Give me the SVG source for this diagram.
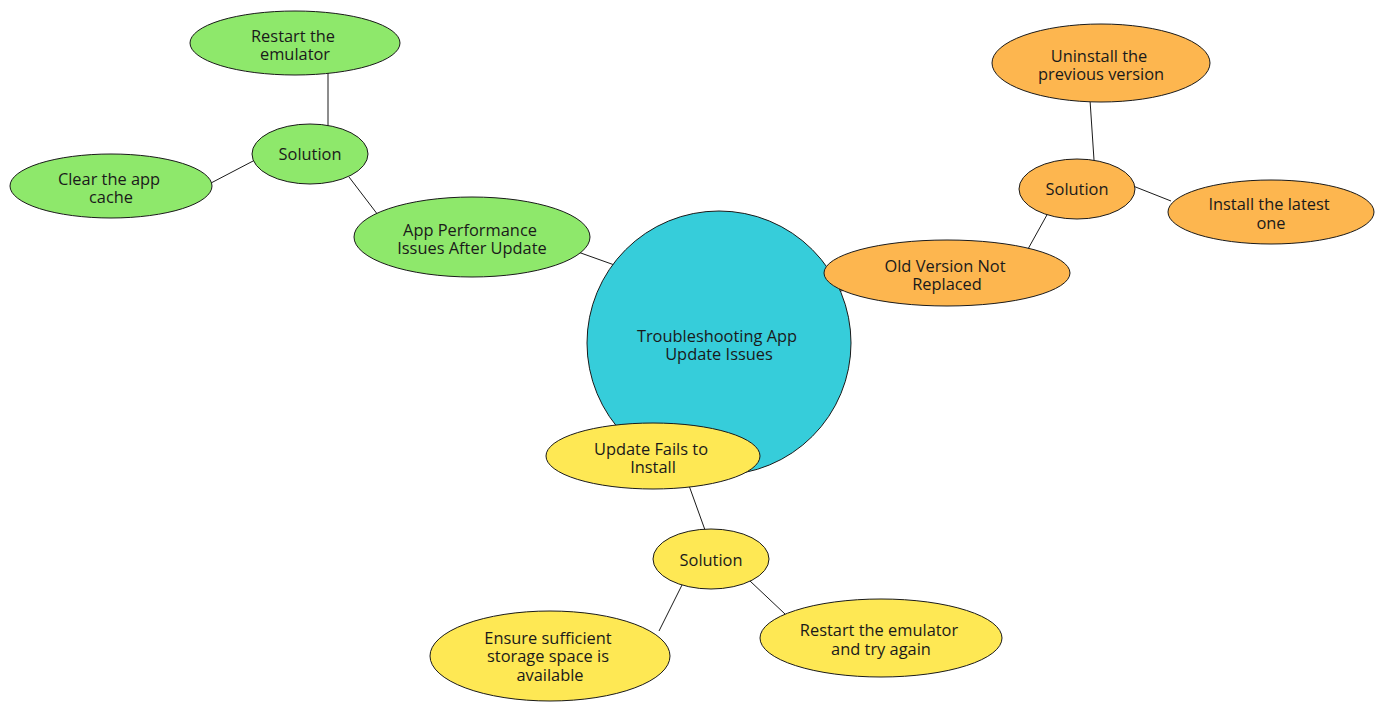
<svg xmlns="http://www.w3.org/2000/svg" width="1384" height="711" viewBox="0 0 1384 711">
<style>
.n{stroke:#1a1a1a;stroke-width:1}
.c{fill:#36cdda}.g{fill:#8ee86b}.o{fill:#fdb64f}.y{fill:#fee854}
text{font-family:"Open Sans","Noto Sans",sans-serif;font-size:16.4px;fill:#1a1a1a;text-anchor:middle}
.e line{stroke:#1a1a1a;stroke-width:1}
</style>
<rect width="1384" height="711" fill="#fff"/>
<g id="connectors" class="e">
<line x1="620" y1="267" x2="578" y2="252"/>
<line x1="378" y1="215" x2="349" y2="177"/>
<line x1="328" y1="127" x2="328" y2="70"/>
<line x1="255" y1="160" x2="211" y2="183"/>
<line x1="836" y1="292" x2="850" y2="289"/>
<line x1="1028" y1="249" x2="1048" y2="213"/>
<line x1="1094" y1="160" x2="1090" y2="100"/>
<line x1="1133" y1="186" x2="1171" y2="201"/>
<line x1="745" y1="470" x2="760" y2="465"/>
<line x1="687" y1="480" x2="705" y2="530"/>
<line x1="682" y1="585" x2="659" y2="631"/>
<line x1="750" y1="581" x2="785" y2="614"/>
</g>
<g id="center"><circle class="n c" cx="719" cy="343" r="132"/><text x="717" y="342">Troubleshooting App</text><text x="719" y="360">Update Issues</text></g>
<g id="appperf"><ellipse class="n g" cx="472" cy="237" rx="118" ry="40"/><text x="470" y="236">App Performance</text><text x="472" y="254">Issues After Update</text></g>
<g id="sol1"><ellipse class="n g" cx="310" cy="154" rx="58" ry="30"/><text x="310" y="160">Solution</text></g>
<g id="restart1"><ellipse class="n g" cx="295" cy="43" rx="105" ry="32"/><text x="293" y="42">Restart the</text><text x="295" y="60">emulator</text></g>
<g id="clear"><ellipse class="n g" cx="111" cy="186" rx="101" ry="32"/><text x="109" y="185">Clear the app</text><text x="111" y="203">cache</text></g>
<g id="oldver"><ellipse class="n o" cx="947" cy="273" rx="123" ry="33"/><text x="945" y="272">Old Version Not</text><text x="947" y="290">Replaced</text></g>
<g id="sol2"><ellipse class="n o" cx="1077" cy="189" rx="58" ry="30"/><text x="1077" y="195">Solution</text></g>
<g id="uninstall"><ellipse class="n o" cx="1101" cy="63" rx="109" ry="39"/><text x="1099" y="62">Uninstall the</text><text x="1101" y="80">previous version</text></g>
<g id="install"><ellipse class="n o" cx="1271" cy="212" rx="103" ry="32"/><text x="1269" y="210">Install the latest</text><text x="1271" y="229">one</text></g>
<g id="updfail"><ellipse class="n y" cx="653" cy="456" rx="107" ry="33"/><text x="651" y="455">Update Fails to</text><text x="653" y="473">Install</text></g>
<g id="sol3"><ellipse class="n y" cx="711" cy="559" rx="58" ry="30"/><text x="711" y="566">Solution</text></g>
<g id="ensure"><ellipse class="n y" cx="550" cy="656" rx="120" ry="45"/><text x="548" y="644">Ensure sufficient</text><text x="548" y="662">storage space is</text><text x="550" y="681">available</text></g>
<g id="restart2"><ellipse class="n y" cx="881" cy="638" rx="121" ry="39"/><text x="879" y="636">Restart the emulator</text><text x="881" y="655">and try again</text></g>
</svg>
